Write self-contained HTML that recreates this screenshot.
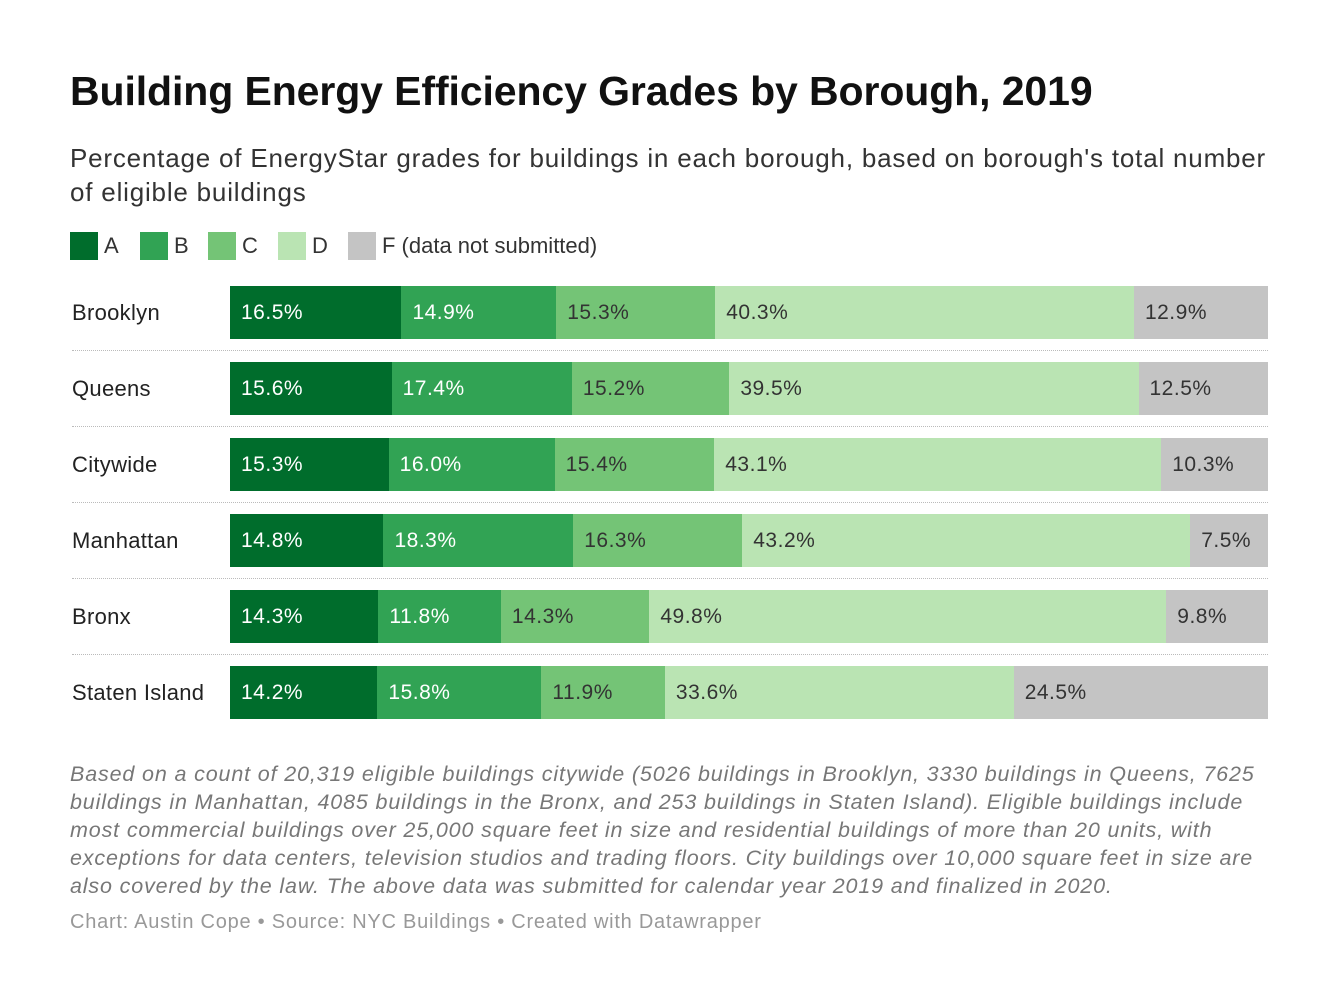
<!DOCTYPE html>
<html><head><meta charset="utf-8"><style>
body{margin:0;width:1340px;height:1006px;background:#fff;font-family:"Liberation Sans",sans-serif;position:relative;overflow:hidden}
.abs{position:absolute}
h1{position:absolute;left:70px;top:68px;margin:0;font-size:41px;font-weight:bold;color:#111;letter-spacing:-0.1px}
.sub{left:70px;top:141px;font-size:26px;color:#333;line-height:34px;white-space:nowrap;letter-spacing:0.8px}
.leg{top:232px;font-size:22px;color:#333;display:flex;align-items:center}
.sw{width:28px;height:28px;margin-right:6px}
.note{left:70px;top:760px;font-size:21.5px;font-style:italic;color:#777;line-height:28px;white-space:nowrap;letter-spacing:0.85px}
.cred{left:70px;top:911px;font-size:20px;color:#999;letter-spacing:0.75px}
.lab{font-size:22px;color:#222;left:72px;letter-spacing:0.3px}
.seg{position:absolute;height:53px;font-size:21px;line-height:53px;box-sizing:border-box;padding-left:11px;white-space:nowrap;overflow:hidden;letter-spacing:0.5px}
.sep{position:absolute;left:72px;width:1196px;border-top:1px dotted #bbb}
</style></head><body>
<h1>Building Energy Efficiency Grades by Borough, 2019</h1>
<div class="abs sub">Percentage of EnergyStar grades for buildings in each borough, based on borough's total number<br>of eligible buildings</div>
<div class="abs leg" style="left:70px"><div class="sw" style="background:#006d2c"></div>A</div>
<div class="abs leg" style="left:140px"><div class="sw" style="background:#31a354"></div>B</div>
<div class="abs leg" style="left:208px"><div class="sw" style="background:#74c476"></div>C</div>
<div class="abs leg" style="left:278px"><div class="sw" style="background:#bae4b3"></div>D</div>
<div class="abs leg" style="left:348px"><div class="sw" style="background:#c4c4c4"></div>F (data not submitted)</div>
<div id="chart"></div>
<div class="abs note">Based on a count of 20,319 eligible buildings citywide (5026 buildings in Brooklyn, 3330 buildings in Queens, 7625<br>buildings in Manhattan, 4085 buildings in the Bronx, and 253 buildings in Staten Island). Eligible buildings include<br>most commercial buildings over 25,000 square feet in size and residential buildings of more than 20 units, with<br>exceptions for data centers, television studios and trading floors. City buildings over 10,000 square feet in size are<br>also covered by the law. The above data was submitted for calendar year 2019 and finalized in 2020.</div>
<div class="abs cred">Chart: Austin Cope • Source: NYC Buildings • Created with Datawrapper</div>
<script>
const categories=["Brooklyn","Queens","Citywide","Manhattan","Bronx","Staten Island"];
const gradeA=[16.5,15.6,15.3,14.8,14.3,14.2];
const gradeB=[14.9,17.4,16.0,18.3,11.8,15.8];
const gradeC=[15.3,15.2,15.4,16.3,14.3,11.9];
const gradeD=[40.3,39.5,43.1,43.2,49.8,33.6];
const gradeF=[12.9,12.5,10.3,7.5,9.8,24.5];
const series=[gradeA,gradeB,gradeC,gradeD,gradeF];
const colors=["#006d2c","#31a354","#74c476","#bae4b3","#c4c4c4"];
const textColors=["#fff","#fff","#333","#333","#333"];
const names=["a","b","c","d","f"];
const X0=230,W=1038,Y0=286,STEP=76;
const c=document.getElementById('chart');
categories.forEach((cat,i)=>{
  const y=Y0+i*STEP;
  const l=document.createElement('div');l.className='abs lab';
  l.style.top=(y+14)+'px';l.textContent=cat;
  
  
  c.appendChild(l);
  const tot=series.reduce((s,a)=>s+a[i],0);
  let acc=0;
  series.forEach((arr,k)=>{
    const x1=X0+acc/tot*W;acc+=arr[i];const x2=X0+acc/tot*W;
    const d=document.createElement('div');d.className='seg';
    d.style.left=x1+'px';d.style.width=(x2-x1+0.5)+'px';d.style.top=y+'px';
    d.style.background=colors[k];d.style.color=textColors[k];
    d.textContent=arr[i].toFixed(1)+'%';
    
    
    c.appendChild(d);
  });
  if(i<categories.length-1){
    const s=document.createElement('div');s.className='sep';s.style.top=(y+64)+'px';
    
    
    c.appendChild(s);
  }
});
</script>
</body></html>
